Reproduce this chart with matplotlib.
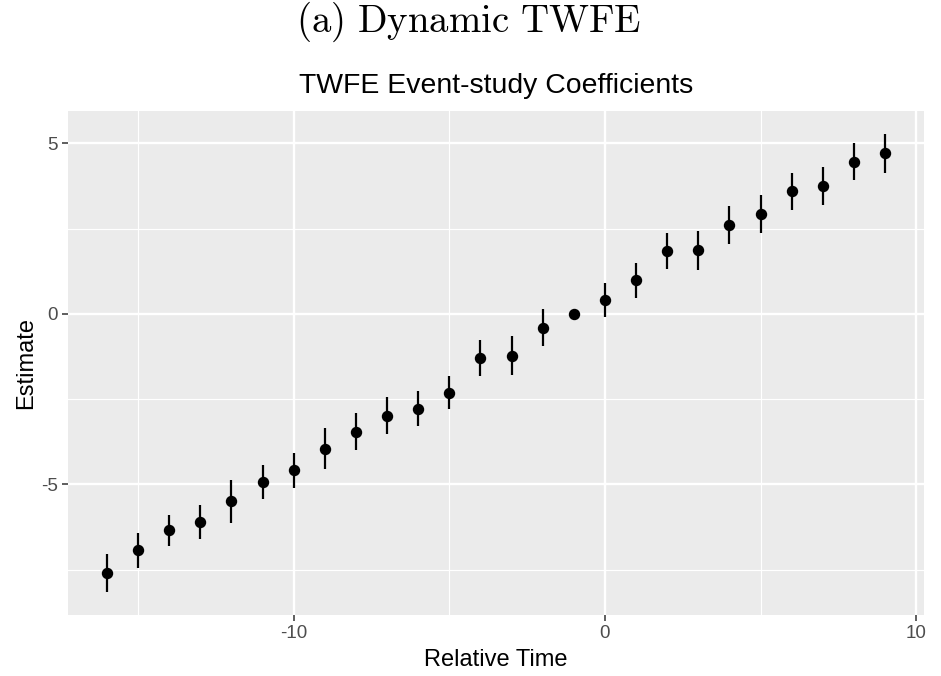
import matplotlib
matplotlib.use("Agg")
import matplotlib.pyplot as plt
import numpy as np

# event-study estimates
rel_time = [-16, -15, -14, -13, -12, -11, -10, -9, -8, -7, -6, -5, -4, -3, -2,
            -1, 0, 1, 2, 3, 4, 5, 6, 7, 8, 9]
estimate = [-7.60, -6.93, -6.35, -6.11, -5.50, -4.94, -4.59, -3.95, -3.45, -2.98,
            -2.78, -2.31, -1.29, -1.23, -0.41, 0.00, 0.41, 0.99, 1.84, 1.87,
            2.60, 2.92, 3.60, 3.74, 4.47, 4.71]
half_ci = [0.56, 0.51, 0.46, 0.50, 0.62, 0.50, 0.51, 0.59, 0.53, 0.53,
           0.51, 0.49, 0.53, 0.57, 0.54, 0.00, 0.50, 0.51, 0.53, 0.57,
           0.56, 0.56, 0.54, 0.56, 0.53, 0.57]

plt.rcParams['font.family'] = ['Liberation Sans', 'DejaVu Sans']
plt.rcParams['mathtext.fontset'] = 'cm'
plt.rcParams['axes.unicode_minus'] = False

fig = plt.figure(figsize=(9.41, 6.76), dpi=100)
ax = fig.add_axes([68 / 941, 1 - 615 / 676, (924 - 68) / 941, (615 - 111) / 676])

# ggplot-like panel
ax.set_facecolor('#EBEBEB')
for s in ax.spines.values():
    s.set_visible(False)

x = np.array(rel_time)
y = np.array(estimate)
e = np.array(half_ci)
ax.vlines(x, y - e, y + e, color='black', linewidth=1.6, zorder=3)
ax.plot(x, y, 'o', color='black', markersize=7.2, zorder=4)

# limits with 5% expansion like ggplot
lo, hi = (y - e).min(), (y + e).max()
ax.set_ylim(lo - 0.05 * (hi - lo), hi + 0.05 * (hi - lo))
ax.set_xlim(x.min() - 0.05 * (x.max() - x.min()), x.max() + 0.05 * (x.max() - x.min()))

ax.set_xticks([-10, 0, 10])
ax.set_yticks([-5, 0, 5])
ax.set_xticks([-15, -5, 5], minor=True)
ax.set_yticks([-7.5, -2.5, 2.5], minor=True)
ax.grid(which='major', color='white', linewidth=1.7)
ax.grid(which='minor', color='white', linewidth=0.85)
ax.set_axisbelow(True)
ax.tick_params(which='major', length=4.3, width=1.1, color='#333333',
               labelcolor='#4D4D4D', labelsize=13.6, pad=3)
ax.tick_params(which='minor', length=0)

ax.set_xlabel('Relative Time', fontsize=17, labelpad=5)
ax.set_ylabel('Estimate', fontsize=17, labelpad=3)
ax.set_title('TWFE Event-study Coefficients', fontsize=20.4, pad=13)

fig.text(468 / 941, 1 - 22 / 676, r'$\mathrm{(a)\ Dynamic\ TWFE}$',
         ha='center', va='center', fontsize=28)

fig.savefig('out.png', dpi=100)
